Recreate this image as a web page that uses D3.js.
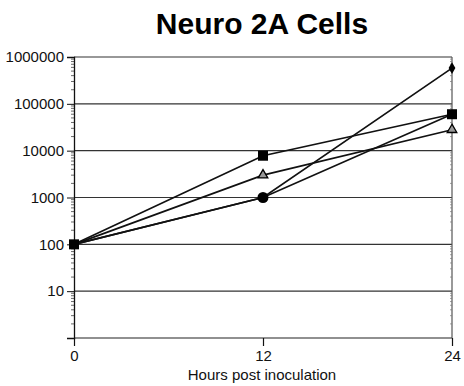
<!DOCTYPE html>
<html><head><meta charset="utf-8">
<script src="https://cdn.jsdelivr.net/npm/d3@7"></script>
<style>body{margin:0;background:#fff}svg{display:block}text{font-family:"Liberation Sans",Arial,sans-serif}</style>
</head><body>
<svg id="c" width="464" height="386"></svg>
<script>
const hours = [0, 12, 24];
const squareSeries = [100, 7800, 60000];
const triangleSeries = [100, 3000, 28000];
const circleSeries = [100, 1000, 60000];
const diamondSeries = [100, 1000, 580000];
const yTicks = [10, 100, 1000, 10000, 100000, 1000000];
const xTicks = [0, 12, 24];
const title = "Neuro 2A Cells";
const xTitle = "Hours post inoculation";

const svg = d3.select("#c");
const m = {l: 74, r: 452, t: 57, b: 338};
const x = d3.scaleLinear().domain([0, 24]).range([m.l, m.r]);
const y = d3.scaleLog().domain([1, 1000000]).range([m.b, m.t]);

svg.append("text").attr("x", 262).attr("y", 34).attr("text-anchor", "middle")
  .attr("font-size", 30).attr("font-weight", "bold").text(title);

// gridlines
svg.append("g").selectAll("line").data(yTicks).join("line")
  .attr("x1", m.l).attr("x2", m.r).attr("y1", d => y(d)).attr("y2", d => y(d))
  .attr("stroke", "#333").attr("stroke-width", 1.2);
// frame bottom and right
svg.append("line").attr("x1", m.l).attr("x2", m.r).attr("y1", m.b).attr("y2", m.b).attr("stroke", "#222").attr("stroke-width", 1.2);
svg.append("line").attr("x1", m.r).attr("x2", m.r).attr("y1", m.t).attr("y2", m.b).attr("stroke", "#555").attr("stroke-width", 1.2);

// minor ticks
const minor = [];
for (let e = 0; e < 6; e++) for (let k = 2; k <= 9; k++) minor.push(k * Math.pow(10, e));
svg.append("g").selectAll("line").data(minor).join("line")
  .attr("x1", m.l - 3).attr("x2", m.l).attr("y1", d => y(d)).attr("y2", d => y(d))
  .attr("stroke", "#444").attr("stroke-width", 0.8);
svg.append("g").selectAll("line").data(minor).join("line")
  .attr("x1", m.r - 2).attr("x2", m.r).attr("y1", d => y(d)).attr("y2", d => y(d))
  .attr("stroke", "#777").attr("stroke-width", 0.7);

// y axis
const yAxis = d3.axisLeft(y).tickValues(yTicks).tickFormat(d3.format("d")).tickSize(7).tickPadding(3);
const gy = svg.append("g").attr("transform", `translate(${m.l},0)`).call(yAxis);
gy.select(".domain").attr("stroke", "#111").attr("stroke-width", 1.3);
gy.selectAll(".tick line").attr("stroke", "#111");
gy.selectAll("text").attr("font-size", 15).attr("fill", "#111").attr("font-family", "Liberation Sans, Arial, sans-serif");

// x axis
const xAxis = d3.axisBottom(x).tickValues(xTicks).tickSize(8).tickPadding(4).tickSizeOuter(0);
const gx = svg.append("g").attr("transform", `translate(0,${m.b})`).call(xAxis);
gx.select(".domain").remove();
gx.selectAll(".tick line").attr("stroke", "#111").attr("stroke-width", 1.2);
gx.selectAll("text").attr("font-size", 15).attr("fill", "#111").attr("font-family", "Liberation Sans, Arial, sans-serif");

svg.append("text").attr("x", 262).attr("y", 380).attr("text-anchor", "middle")
  .attr("font-size", 15).attr("fill", "#111").text(xTitle);

// lines
const line = d3.line().x((d, i) => x(hours[i])).y(d => y(d));
const all = [squareSeries, triangleSeries, circleSeries, diamondSeries];
svg.append("g").selectAll("path").data(all).join("path")
  .attr("d", d => line(d)).attr("fill", "none").attr("stroke", "#111").attr("stroke-width", 1.7);

// markers
const g = svg.append("g");
g.selectAll(".sq").data(squareSeries).join("rect")
  .attr("x", (d, i) => x(hours[i]) - 5).attr("y", d => y(d) - 5).attr("width", 10).attr("height", 10).attr("fill", "#000");
g.selectAll(".ci").data(circleSeries.slice(1, 2)).join("circle")
  .attr("cx", x(12)).attr("cy", d => y(d)).attr("r", 5.5).attr("fill", "#000");
const sym = d3.symbol().type(d3.symbolTriangle).size(40);
g.selectAll(".tr").data(triangleSeries.slice(1)).join("path")
  .attr("transform", (d, i) => `translate(${x(hours[i + 1])},${y(d)})`).attr("d", sym())
  .attr("fill", "#999").attr("stroke", "#000").attr("stroke-width", 1.3);
g.selectAll(".di").data(diamondSeries.slice(2)).join("path")
  .attr("transform", d => `translate(${x(24)},${y(d)})`).attr("d", d3.symbol().type(d3.symbolDiamond).size(40)())
  .attr("fill", "#000");
</script>
</body></html>
